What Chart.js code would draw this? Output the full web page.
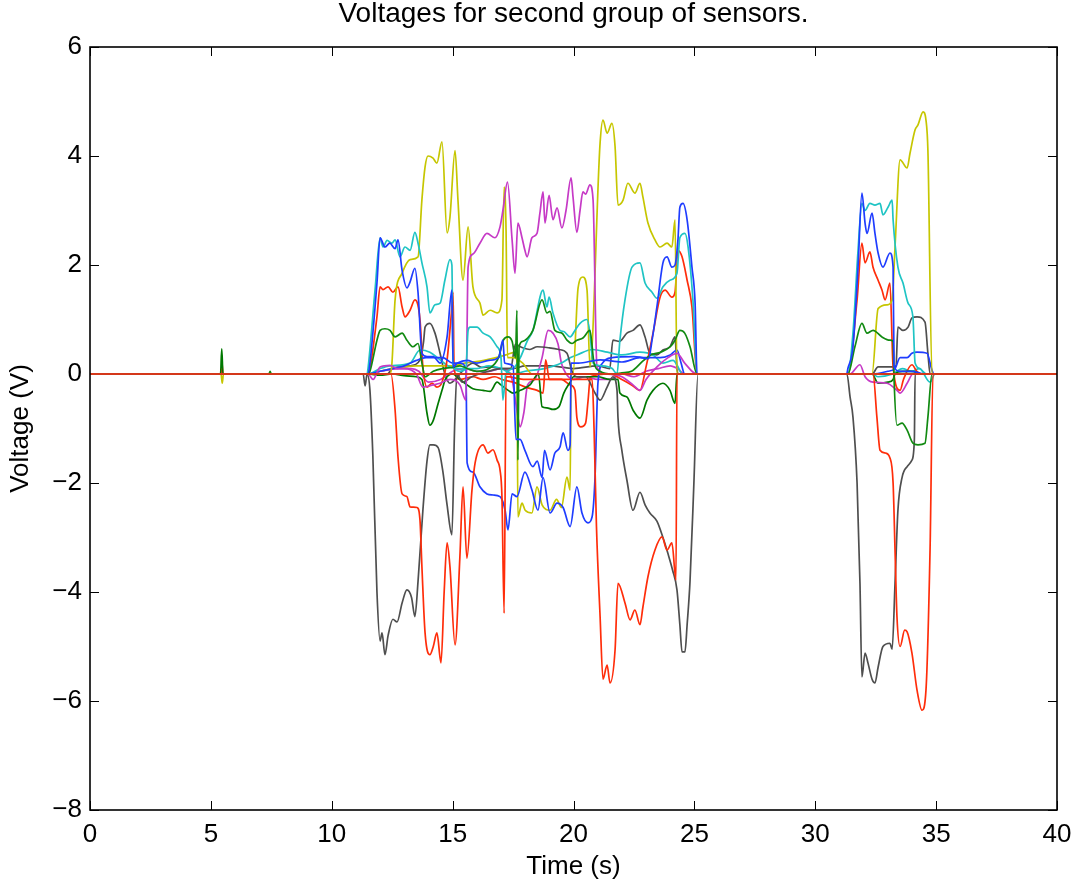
<!DOCTYPE html>
<html>
<head>
<meta charset="utf-8">
<title>Voltages for second group of sensors.</title>
<script src="https://cdn.jsdelivr.net/npm/chart.js@4.4.0/dist/chart.umd.min.js"></script>
<style>
  html, body { margin: 0; padding: 0; background: #fff; }
</style>
</head>
<body>
<canvas id="myCanvas" width="1077" height="886"></canvas>
<script>
// axis ticks
const xTicks = [0, 5, 10, 15, 20, 25, 30, 35, 40];
const yTicks = [-8, -6, -4, -2, 0, 2, 4, 6];

// sensor traces, [time (s), voltage (V)]
const grayA = [[0,0],[11.3,0],[11.38,-0.22],[11.46,0],[11.58,-0.3],[11.7,-1.5],[11.87,-4.0],[12.0,-4.9],[12.08,-4.75],[12.2,-5.15],[12.33,-4.8],[12.53,-4.5],[12.7,-4.55],[12.91,-4.2],[13.11,-3.96],[13.3,-4.1],[13.44,-4.45],[13.57,-3.8],[13.77,-2.5],[13.94,-1.6],[14.06,-1.3],[14.2,-1.3],[14.4,-1.35],[14.6,-1.8],[14.77,-2.4],[14.97,-2.95],[15.08,-1.0],[15.18,0],[15.4,-0.15],[15.8,-0.05],[16.5,0.05],[17.0,0.1],[17.4,0.1],[17.6,0.55],[17.8,0.5],[18.2,0.45],[18.5,0.5],[19.0,0.48],[19.4,0.45],[19.73,0.38],[19.94,0.05],[20.14,-0.05],[20.5,-0.05],[20.89,-0.35],[21.1,-0.48],[21.39,-0.24],[21.63,-0.05],[21.8,-0.3],[21.84,-0.8],[22.0,-1.4],[22.21,-1.95],[22.46,-2.5],[22.75,-2.17],[22.96,-2.4],[23.16,-2.55],[23.45,-2.7],[23.7,-3.0],[23.91,-3.3],[24.1,-3.6],[24.28,-3.96],[24.4,-4.6],[24.49,-5.1],[24.61,-5.1],[24.7,-4.6],[24.82,-3.8],[24.98,-2.0],[25.15,0],[31.31,0],[31.44,-0.42],[31.56,-0.79],[31.73,-2.0],[31.85,-3.84],[31.93,-5.56],[32.06,-5.12],[32.18,-5.3],[32.35,-5.6],[32.47,-5.67],[32.6,-5.38],[32.8,-5.0],[33.09,-4.94],[33.18,-5.05],[33.3,-3.84],[33.42,-2.5],[33.59,-1.9],[33.8,-1.7],[34.0,-1.58],[34.1,-1.2],[34.13,0],[40,0]];
const grayB = [[0,0],[12.3,0],[12.5,0.1],[12.82,0.13],[13.24,0.15],[13.65,0.26],[13.8,0.6],[13.86,0.86],[14.06,0.93],[14.27,0.75],[14.48,0.38],[14.68,0],[14.89,-0.17],[15.1,-0.1],[15.5,0.1],[15.84,0.2],[16.2,0.12],[16.55,0.13],[17.0,0.1],[17.5,0.1],[18.0,0.15],[19.0,0.15],[20.0,0.1],[21.0,0.15],[21.5,0.1],[21.63,0.62],[21.9,0.6],[22.21,0.75],[22.46,0.8],[22.75,0.9],[22.96,0.68],[23.16,0.38],[23.45,0.35],[23.7,0.44],[23.99,0.5],[24.2,0.68],[24.28,0.1],[24.35,0],[32.35,0],[32.6,0.13],[33.22,0.13],[33.34,0.15],[33.42,0.86],[33.63,0.8],[33.84,0.86],[34.0,1.03],[34.21,1.05],[34.54,0.95],[34.66,0.38],[34.75,0],[40,0]];
const redA = [[0,0],[12.45,0],[12.62,-0.66],[12.74,-1.52],[12.91,-2.2],[13.11,-2.25],[13.24,-2.44],[13.53,-2.45],[13.65,-2.68],[13.73,-3.54],[13.86,-4.75],[14.06,-5.15],[14.2,-5.0],[14.35,-4.75],[14.52,-5.3],[14.65,-4.0],[14.77,-3.1],[14.89,-3.54],[15.1,-4.97],[15.3,-3.36],[15.43,-2.07],[15.59,-3.38],[15.8,-2.13],[15.93,-1.63],[16.26,-1.3],[16.46,-1.45],[16.67,-1.39],[16.84,-1.58],[16.96,-1.76],[17.04,-2.25],[17.13,-4.39],[17.21,-0.05],[18,-0.1],[19,-0.1],[20,-0.1],[20.77,-0.1],[20.85,-1.0],[20.95,-2.8],[21.1,-4.45],[21.22,-5.6],[21.39,-5.34],[21.51,-5.67],[21.72,-5.06],[21.84,-3.84],[22.13,-4.2],[22.34,-4.51],[22.54,-4.33],[22.75,-4.6],[22.87,-4.28],[23.08,-3.72],[23.37,-3.23],[23.66,-2.99],[23.87,-3.23],[24.07,-3.1],[24.24,-3.78],[24.28,0],[32.39,0],[32.55,-0.79],[32.68,-1.4],[32.9,-1.45],[33.09,-1.54],[33.22,-2.0],[33.3,-3.23],[33.38,-4.45],[33.51,-5.0],[33.7,-4.7],[33.8,-4.73],[34.0,-5.12],[34.21,-5.8],[34.42,-6.17],[34.58,-5.8],[34.75,-3.2],[34.87,0],[40,0]];
const redB = [[0,0],[5.44,0],[5.46,0.2],[5.5,0],[11.5,0],[11.58,0.1],[11.87,1.05],[12.0,1.6],[12.12,1.55],[12.33,1.6],[12.53,1.5],[12.74,1.6],[12.91,1.23],[13.03,1.05],[13.24,1.17],[13.44,1.36],[13.65,1.0],[13.77,0.13],[13.94,-0.24],[14.15,-0.17],[14.35,-0.24],[14.56,-0.15],[14.77,0.26],[14.97,1.23],[15.02,1.5],[15.06,0.1],[15.3,-0.1],[15.84,-0.05],[16.26,-0.1],[16.75,-0.05],[17.04,-0.1],[17.5,-0.15],[18.08,-0.25],[18.5,-0.3],[18.74,-0.35],[18.85,0.26],[19.0,-0.1],[19.5,-0.1],[19.86,-0.2],[20.06,-0.3],[20.14,-0.8],[20.3,-0.97],[20.5,-0.9],[20.6,-0.5],[20.7,-0.05],[21.5,0],[22.0,-0.1],[22.4,-0.2],[22.75,-0.3],[23.0,0.13],[23.29,0.75],[23.58,1.41],[23.79,1.54],[24.07,1.41],[24.2,1.5],[24.32,2.27],[24.49,2.15],[24.7,1.72],[24.9,1.23],[25.11,0],[31.35,0],[31.73,1.36],[31.93,2.4],[32.06,2.04],[32.26,2.24],[32.39,1.96],[32.6,1.72],[32.76,1.54],[32.89,1.36],[33.09,1.67],[33.22,0.13],[33.51,-0.3],[33.65,-0.1],[34.0,0.17],[34.2,0.05],[34.35,0],[40,0]];
const blueA = [[0,0],[11.5,0],[11.58,0.2],[11.87,1.67],[12.0,2.5],[12.2,2.33],[12.4,2.4],[12.62,2.3],[12.74,2.46],[12.91,1.9],[13.11,1.58],[13.24,1.69],[13.44,1.94],[13.57,1.49],[13.73,0.38],[13.94,0.32],[14.2,0.32],[14.48,0.2],[14.77,0.68],[14.97,1.54],[15.02,0.13],[15.2,0.2],[15.6,0.25],[16.0,0.2],[16.5,0.25],[16.9,0.3],[17.08,0.62],[17.15,0.2],[17.5,0.15],[17.62,-1.2],[17.79,-1.2],[17.99,-1.4],[18.32,-1.7],[18.5,-1.6],[18.7,-1.9],[18.8,-1.4],[19.03,-1.76],[19.23,-1.45],[19.44,-1.34],[19.57,-1.08],[19.77,-1.4],[19.86,-1.3],[19.9,0.2],[20.2,0.2],[21.1,0.26],[22.0,0.22],[22.75,0.3],[23.1,0.28],[23.25,0.62],[23.45,1.23],[23.7,2.04],[23.87,2.15],[24.07,1.96],[24.2,2.0],[24.32,2.46],[24.4,3.06],[24.53,3.13],[24.7,2.83],[24.9,1.96],[25.03,1.3],[25.11,0],[31.3,0],[31.35,0.1],[31.56,0.5],[31.77,1.96],[31.93,3.32],[32.06,2.77],[32.14,2.58],[32.35,2.95],[32.47,2.58],[32.6,2.22],[32.8,1.96],[33.09,2.22],[33.22,1.96],[33.26,0.13],[33.5,0.05],[34.0,0.05],[34.5,0],[40,0]];
const blueB = [[0,0],[11.5,0],[12.0,0.05],[12.5,0.1],[13.0,0.15],[13.5,0.25],[13.9,0.3],[14.6,0.3],[15.0,0.2],[15.3,0.2],[15.55,0.1],[15.6,-1.63],[15.84,-1.8],[16.13,-2.07],[16.42,-2.2],[16.67,-2.22],[16.96,-2.25],[17.17,-2.5],[17.29,-2.86],[17.46,-2.2],[17.66,-2.25],[17.99,-1.8],[18.28,-2.13],[18.53,-2.5],[18.74,-1.9],[19.03,-2.55],[19.32,-2.37],[19.57,-2.45],[19.86,-2.8],[20.14,-2.07],[20.35,-2.55],[20.6,-2.73],[20.77,-2.62],[20.89,-1.9],[21.01,-0.17],[21.2,0.2],[21.6,0.3],[22.5,0.32],[23.0,0.3],[23.58,0.3],[24.0,0.35],[24.28,0.44],[24.45,0.2],[24.6,0],[32.35,0],[33.0,0.05],[33.3,0.1],[33.51,0.3],[33.8,0.3],[34.0,0.38],[34.21,0.4],[34.62,0.38],[34.83,0.07],[34.9,0],[40,0]];
const cyanA = [[0,0],[11.46,0],[11.5,0.1],[11.79,1.54],[12.0,2.5],[12.12,2.33],[12.29,2.45],[12.49,2.4],[12.62,2.46],[12.82,2.15],[13.03,2.33],[13.24,2.27],[13.44,2.6],[13.57,2.4],[13.73,2.04],[13.94,1.6],[14.06,1.12],[14.27,1.27],[14.48,1.3],[14.68,1.72],[14.89,2.1],[14.97,2.0],[15.02,0.13],[15.3,0.05],[15.55,0.1],[15.64,0.8],[15.72,0.86],[16.01,0.86],[16.26,0.75],[16.55,0.68],[16.84,0.5],[17.0,0.3],[17.08,-0.48],[17.2,0],[17.5,0.1],[17.8,0.3],[18.08,0.6],[18.32,0.8],[18.74,1.54],[18.9,1.23],[18.99,1.41],[19.15,1.12],[19.44,0.8],[19.6,0.78],[19.86,0.68],[20.06,0.8],[20.27,0.93],[20.56,1.0],[20.68,0.75],[20.81,0.2],[21.2,0.15],[21.6,0.1],[21.8,0],[21.92,0.62],[22.13,1.36],[22.42,1.96],[22.75,2.04],[22.96,1.67],[23.25,1.5],[23.45,1.39],[23.7,1.6],[23.99,1.72],[24.28,1.85],[24.4,2.5],[24.61,2.58],[24.74,2.33],[24.94,1.36],[25.11,0],[31.35,0],[31.56,0.75],[31.77,2.27],[31.93,3.13],[32.06,3.0],[32.26,3.13],[32.47,3.1],[32.68,3.13],[32.8,2.92],[33.01,3.06],[33.18,3.19],[33.22,2.83],[33.42,1.96],[33.63,1.67],[33.84,1.3],[34.04,1.05],[34.13,0.2],[34.33,0.1],[34.75,-0.15],[34.95,0],[40,0]];
const cyanB = [[0,0],[11.5,0],[12.0,0.1],[12.41,0.15],[13.24,0.2],[13.65,0.44],[14.06,0.4],[14.48,0.26],[14.89,0.13],[15.3,0.1],[16.0,0.1],[16.5,0.15],[17.0,0.1],[17.5,0],[18.0,0.05],[18.8,0.1],[19.5,0.2],[19.86,0.3],[20.14,0.35],[20.8,0.45],[21.4,0.4],[22.0,0.35],[22.75,0.4],[23.29,0.35],[23.7,0.2],[24.12,0.25],[24.3,0.15],[24.5,0],[32.35,0],[32.6,-0.05],[33.2,0],[33.6,0.1],[34.0,0.05],[34.3,0.1],[34.6,0],[40,0]];
const magentaA = [[0,0],[11.5,0],[11.71,-0.1],[12.0,0.13],[12.41,0.16],[12.7,0.1],[13.0,0.1],[13.5,0],[13.77,-0.24],[14.2,-0.2],[14.48,-0.17],[14.9,-0.1],[15.3,-0.2],[15.55,-0.48],[15.64,1.96],[15.84,2.2],[16.13,2.4],[16.42,2.58],[16.75,2.5],[16.96,2.7],[17.08,3.0],[17.27,3.52],[17.46,2.46],[17.58,1.85],[17.7,2.77],[17.87,2.5],[17.99,2.27],[18.08,2.15],[18.28,2.5],[18.49,2.58],[18.61,2.95],[18.74,3.34],[18.82,2.77],[18.99,3.28],[19.15,2.83],[19.32,3.05],[19.52,2.68],[19.69,3.0],[19.9,3.6],[19.98,3.25],[20.14,2.6],[20.27,3.0],[20.39,3.34],[20.5,3.3],[20.68,3.47],[20.81,3.19],[20.97,0.13],[21.3,0],[22.0,-0.05],[22.46,-0.2],[22.75,-0.3],[23.0,-0.1],[23.45,0.13],[23.91,0.3],[24.28,0.38],[24.6,0.2],[25.1,0],[31.44,0],[31.85,0.17],[32.06,-0.05],[32.39,-0.15],[32.97,-0.17],[33.38,-0.3],[33.51,-0.35],[33.8,-0.17],[34.04,0],[40,0]];
const magentaB = [[0,0],[11.5,0],[12.0,0.05],[12.8,0.1],[13.3,0.1],[13.6,0.05],[14.0,-0.15],[14.5,-0.1],[15.0,0.05],[15.5,0.1],[16.0,0.05],[16.5,0.05],[17.0,0.1],[17.3,0.05],[17.46,-0.1],[17.66,-0.66],[17.79,-0.97],[17.95,-0.7],[18.1,-0.2],[18.4,-0.1],[18.7,0.3],[18.95,0.8],[19.15,0.75],[19.36,0.55],[19.5,0.2],[19.7,0],[20.0,-0.1],[20.5,-0.05],[21.0,-0.1],[21.5,-0.1],[22.0,0],[22.5,-0.05],[23.0,0.05],[23.5,0.1],[24.0,0.15],[24.3,0.1],[24.6,0],[40,0]];
const yellowA = [[0,0],[12.41,0],[12.49,0.2],[12.62,1.36],[12.91,1.85],[13.24,2.1],[13.57,2.15],[13.73,3.2],[13.86,3.8],[13.98,4.0],[14.19,3.96],[14.35,3.87],[14.56,4.26],[14.77,2.59],[14.89,2.88],[15.1,4.1],[15.22,3.2],[15.43,1.72],[15.64,2.7],[15.84,1.6],[16.13,1.3],[16.26,1.08],[16.55,1.17],[16.84,1.12],[17.04,1.36],[17.13,3.43],[17.21,2.64],[17.27,0.3],[17.5,0.3],[17.9,0.2],[18.3,0],[19.98,0],[20.19,1.58],[20.39,1.78],[20.56,1.54],[20.68,0.13],[21.1,4.24],[21.22,4.66],[21.39,4.42],[21.59,4.6],[21.72,4.17],[21.84,3.1],[22.05,3.19],[22.25,3.5],[22.54,3.32],[22.75,3.5],[22.87,3.25],[23.08,2.77],[23.37,2.46],[23.58,2.33],[23.87,2.4],[24.07,2.33],[24.2,2.83],[24.28,0],[32.35,0],[32.6,1.2],[32.97,1.27],[33.18,1.36],[33.3,2.33],[33.51,3.93],[33.8,3.78],[33.92,4.05],[34.13,4.48],[34.25,4.57],[34.46,4.81],[34.58,4.66],[34.66,4.1],[34.83,0],[40,0]];
const yellowB = [[0,0],[5.42,0],[5.47,-0.17],[5.52,0],[11.5,0],[12.0,0.05],[12.5,0.1],[13.5,0.15],[14.5,0.15],[15.0,0.15],[15.5,0.2],[16.3,0.25],[16.8,0.3],[17.2,0.35],[17.6,0.4],[17.66,0.2],[17.7,-2.62],[17.87,-2.37],[18.0,-2.5],[18.28,-2.55],[18.49,-2.07],[18.7,-2.4],[19.03,-2.5],[19.3,-2.3],[19.5,-2.45],[19.73,-1.89],[19.86,-2.13],[19.9,0],[40,0]];
const greenA = [[0,0],[7.4,0],[7.45,0.05],[7.5,0],[11.5,0],[11.58,0.05],[11.87,0.62],[12.0,0.8],[12.2,0.83],[12.41,0.8],[12.62,0.68],[12.91,0.75],[13.11,0.62],[13.36,0.5],[13.57,0.56],[13.73,0.2],[13.86,-0.05],[14.2,0.05],[14.6,0.1],[15.0,0.12],[15.3,0.15],[15.6,0.1],[16.0,0.05],[16.5,0.1],[16.9,0.3],[17.1,0.62],[17.29,0.68],[17.46,0.6],[17.6,0.3],[17.66,1.17],[17.7,-1.58],[17.75,0.5],[17.9,0.6],[18.08,0.65],[18.32,0.8],[18.7,1.36],[18.9,1.12],[19.03,1.15],[19.23,0.8],[19.52,0.75],[19.73,0.62],[19.94,0.56],[20.14,0.62],[20.39,0.66],[20.68,0.8],[20.85,0.2],[21.1,0.05],[21.6,0],[22.0,0.02],[22.4,0.05],[22.9,0.25],[23.2,0.35],[23.6,0.4],[24.0,0.5],[24.2,0.62],[24.4,0.8],[24.6,0.75],[24.82,0.5],[25.11,0],[31.35,0],[31.64,0.5],[31.93,0.93],[32.14,0.75],[32.39,0.8],[32.76,0.68],[33.09,0.62],[33.22,0.6],[33.26,-0.1],[33.38,-0.94],[33.59,-0.9],[33.8,-1.03],[34.04,-1.27],[34.25,-1.3],[34.54,-1.27],[34.66,-0.79],[34.83,0],[40,0]];
const greenB = [[0,0],[5.4,0],[5.45,0.46],[5.5,0],[11.5,0],[12.0,-0.02],[12.5,0],[13.0,-0.03],[13.5,-0.05],[13.73,-0.1],[13.94,-0.72],[14.06,-0.94],[14.2,-0.85],[14.4,-0.54],[14.56,-0.3],[14.7,-0.1],[15.0,0],[15.3,-0.1],[15.6,-0.2],[15.84,-0.27],[16.26,-0.3],[16.55,-0.32],[16.84,-0.15],[17.0,-0.2],[17.3,-0.3],[17.5,-0.35],[17.8,-0.3],[18.2,-0.2],[18.55,0],[18.7,-0.6],[18.9,-0.62],[19.15,-0.65],[19.4,-0.6],[19.6,-0.35],[19.86,-0.15],[20.0,-0.05],[21.0,-0.05],[21.5,-0.1],[21.84,-0.1],[21.92,-0.35],[22.21,-0.42],[22.46,-0.66],[22.75,-0.81],[23.04,-0.48],[23.29,-0.3],[23.7,-0.17],[23.99,-0.3],[24.2,-0.54],[24.28,0],[32.35,0],[32.6,-0.17],[33.0,-0.15],[33.22,-0.1],[33.3,0],[33.6,0.05],[34.0,0.05],[34.4,0],[40,0]];
const zeroLine = [[0,0],[40,0]];

const FONT = "'Liberation Sans', Arial, Helvetica, sans-serif";

function line(pairs, color, width) {
    return {
        data: pairs.map(p => ({x: p[0], y: p[1]})),
        borderColor: color,
        borderWidth: width || 1.7,
        pointRadius: 0,
        cubicInterpolationMode: 'monotone',
        fill: false
    };
}

// inward ticks on all four sides (under the data), box on top
const frame = {
    id: 'frame',
    beforeDatasetsDraw(chart) {
        const ctx = chart.ctx, a = chart.chartArea;
        const x = chart.scales.x, y = chart.scales.y;
        const tl = 9;
        ctx.save();
        ctx.strokeStyle = '#000';
        ctx.lineWidth = 1;
        ctx.beginPath();
        xTicks.forEach(v => {
            const px = Math.round(x.getPixelForValue(v)) + 0.5;
            ctx.moveTo(px, a.bottom); ctx.lineTo(px, a.bottom - tl);
            ctx.moveTo(px, a.top); ctx.lineTo(px, a.top + tl);
        });
        yTicks.forEach(v => {
            const py = Math.round(y.getPixelForValue(v)) + 0.5;
            ctx.moveTo(a.left, py); ctx.lineTo(a.left + tl, py);
            ctx.moveTo(a.right, py); ctx.lineTo(a.right - tl, py);
        });
        ctx.stroke();
        ctx.restore();
    },
    afterDraw(chart) {
        const ctx = chart.ctx, a = chart.chartArea;
        ctx.save();
        ctx.strokeStyle = '#000';
        ctx.lineWidth = 1.6;
        ctx.strokeRect(a.left, a.top, a.right - a.left, a.bottom - a.top);
        ctx.restore();
    }
};

var c = document.getElementById("myCanvas");
var ctx = c.getContext("2d");
var myChart = new Chart(ctx, {
    type: 'line',
    data: {
        datasets: [
            line(zeroLine, '#d4381a', 2.2),
            line(blueA, '#1f3dff'),
            line(greenA, '#118a11'),
            line(redA, '#ff2d0a'),
            line(cyanA, '#1fc4c4'),
            line(magentaA, '#c63ac6'),
            line(yellowA, '#c6c600'),
            line(grayA, '#4f4f4f'),
            line(blueB, '#1f3dff'),
            line(greenB, '#007800'),
            line(redB, '#ff2d0a'),
            line(cyanB, '#1fc4c4'),
            line(magentaB, '#c63ac6'),
            line(yellowB, '#c6c600'),
            line(grayB, '#4f4f4f')
        ]
    },
    options: {
        responsive: false,
        animation: false,
        devicePixelRatio: 1,
        layout: { padding: { left: 0, right: 20, top: 0, bottom: 0 } },
        plugins: {
            legend: { display: false },
            tooltip: { enabled: false },
            title: {
                display: true,
                fullSize: false,
                text: 'Voltages for second group of sensors.',
                color: '#000',
                font: { family: FONT, size: 28, weight: 'normal', lineHeight: 1.0 },
                padding: { top: 0, bottom: 19 }
            }
        },
        scales: {
            x: {
                type: 'linear',
                min: 0,
                max: 40,
                afterBuildTicks: s => { s.ticks = xTicks.map(v => ({value: v})); },
                afterFit: s => { s.height = 76; s.paddingLeft = 0; s.paddingRight = 0; },
                grid: { display: false, drawTicks: false },
                border: { display: false },
                ticks: {
                    color: '#000',
                    font: { family: FONT, size: 26 },
                    padding: 9,
                    maxRotation: 0,
                    autoSkip: false
                },
                title: {
                    display: true,
                    text: 'Time (s)',
                    color: '#000',
                    font: { family: FONT, size: 26 },
                    padding: { top: 0, bottom: 4 }
                }
            },
            y: {
                type: 'linear',
                min: -8,
                max: 6,
                afterBuildTicks: s => { s.ticks = yTicks.map(v => ({value: v})); },
                afterFit: s => { s.width = 90; },
                grid: { display: false, drawTicks: false },
                border: { display: false },
                ticks: {
                    color: '#000',
                    font: { family: FONT, size: 26 },
                    padding: 8,
                    callback: v => String(v).replace('-', '\u2212')
                },
                title: {
                    display: true,
                    text: 'Voltage (V)',
                    color: '#000',
                    font: { family: FONT, size: 26 },
                    padding: { top: 5, bottom: 0 }
                }
            }
        }
    },
    plugins: [frame]
});
</script>
</body>
</html>
